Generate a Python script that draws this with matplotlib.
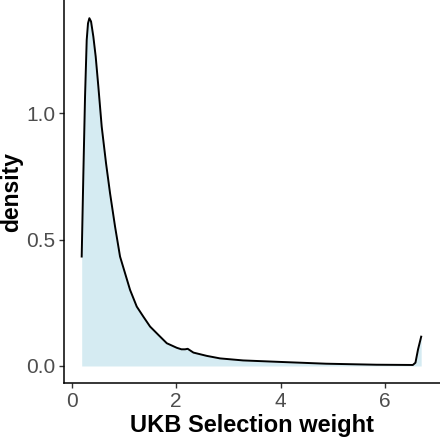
import matplotlib
matplotlib.use("Agg")
import matplotlib.pyplot as plt

# density curve
weight = [0.191, 0.223, 0.255, 0.287, 0.312, 0.338, 0.370, 0.414, 0.459, 0.510,
          0.574, 0.657, 0.734, 0.830, 0.925, 1.021, 1.117, 1.245, 1.372, 1.500,
          1.659, 1.820, 2.011, 2.10, 2.17, 2.22, 2.33, 2.585, 2.84, 3.28,
          4.00, 4.87, 5.83, 6.53, 6.58, 6.63, 6.69]
density = [0.433, 0.762, 1.066, 1.290, 1.356, 1.376, 1.363, 1.303, 1.224, 1.105,
           0.947, 0.802, 0.683, 0.551, 0.433, 0.367, 0.301, 0.235, 0.195, 0.156,
           0.123, 0.090, 0.072, 0.066, 0.066, 0.068, 0.053, 0.040, 0.030, 0.022,
           0.016, 0.009, 0.005, 0.004, 0.013, 0.066, 0.116]

x_ticks = [0, 2, 4, 6]
y_ticks = [0.0, 0.5, 1.0]
x_label = "UKB Selection weight"
y_label = "density"

plt.rcParams['font.family'] = ['Liberation Sans', 'DejaVu Sans']

W = H = 440
fig = plt.figure(figsize=(4.4, 4.4), dpi=100)
ax = fig.add_axes([64.3 / W, 1 - 383.3 / H, (W - 64.3) / W, 383.3 / H])

ax.fill_between(weight, density, 0, color='#ADD8E6', alpha=0.5, linewidth=0)
ax.plot(weight, density, color='black', linewidth=1.4)

ax.set_xlim(-0.142, 7.05)
ax.set_ylim(-0.0685, 1.448)
ax.set_xticks(x_ticks)
ax.set_xticklabels([str(t) for t in x_ticks])
ax.set_yticks(y_ticks)
ax.set_yticklabels([f"{t:.1f}" for t in y_ticks])

for s in ['top', 'right']:
    ax.spines[s].set_visible(False)
for s in ['left', 'bottom']:
    ax.spines[s].set_linewidth(1.1)
    ax.spines[s].set_color('black')

ax.tick_params(axis='both', length=3.5, width=1.0, color='#333333',
               labelsize=15, labelcolor='#4D4D4D', pad=3)

ax.set_xlabel(x_label, fontsize=17, fontweight='bold', labelpad=2)
ax.set_ylabel(y_label, fontsize=16.5, fontweight='bold')
ax.yaxis.set_label_coords((23 - 64.3) / (W - 64.3), 0.5)

fig.savefig("out.png", dpi=100)
